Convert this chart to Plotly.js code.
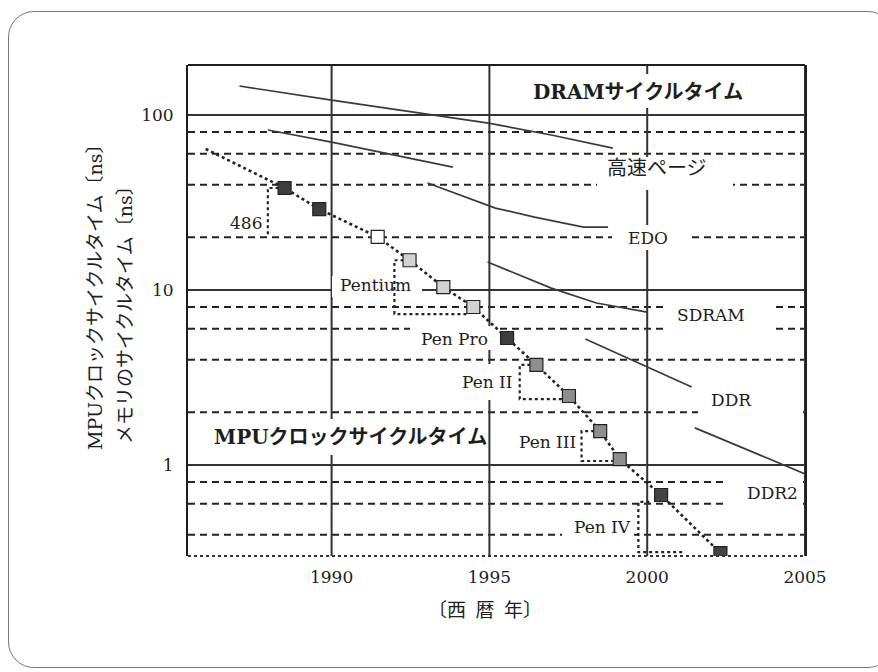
<!DOCTYPE html>
<html><head><meta charset="utf-8">
<script src="https://cdn.plot.ly/plotly-3.0.1.min.js"></script>
<style>
html,body{margin:0;padding:0;background:#fff;overflow:hidden;width:878px;height:672px;}
#frame{position:absolute;left:8px;top:11px;width:886px;height:657px;border:1.6px solid #777;border-radius:26px;box-sizing:border-box;}
#chart{position:absolute;left:0;top:0;width:878px;height:672px;}
</style></head><body>
<div id="frame"></div>
<div id="chart"></div>
<script>
// ---------- data ----------
const yearTicks = [1990, 1995, 2000, 2005];
const nsMajorTicks = [1, 10, 100];
const nsMinorTicks = [0.4, 0.6, 0.8, 2, 4, 6, 8, 20, 40, 60, 80];

// MPU clock cycle time (ns)
const mpuYear = [1988.51, 1989.61, 1991.46, 1992.47, 1993.54, 1994.49, 1995.56, 1996.49, 1997.52, 1998.51, 1999.13, 2000.44, 2002.32];
const mpuNs   = [38.3, 29.0, 20.1, 14.8, 10.4, 8.0, 5.32, 3.73, 2.48, 1.56, 1.08, 0.674, 0.314];
const trendLeadYear = [1986.01];
const trendLeadNs = [64];

// processor group brackets
const bracket486Year = [1988.51, 1987.98, 1987.98];
const bracket486Ns   = [38.3, 38.3, 20.6];
const bracketPentiumYear = [1992.47, 1991.99, 1991.99, 1994.29];
const bracketPentiumNs   = [14.8, 14.8, 7.29, 7.29];
const bracketPen2Year = [1996.49, 1995.96, 1995.96, 1997.36];
const bracketPen2Ns   = [3.73, 3.73, 2.38, 2.38];
const bracketPen3Year = [1998.51, 1997.92, 1997.92, 1998.91];
const bracketPen3Ns   = [1.56, 1.56, 1.054, 1.054];
const bracketPen4Year = [2000.07, 1999.72, 1999.72, 2001.17];
const bracketPen4Ns   = [0.615, 0.615, 0.318, 0.318];

// DRAM cycle time curves (ns)
const dramYear = [1987.08, 1990.0, 1994.97, 1996.96, 1998.91];
const dramNs   = [146.5, 121.8, 90.0, 76.9, 64.7];
const fpmYear = [1987.98, 1990.0, 1993.84];
const fpmNs   = [82.1, 70.1, 50.4];
const edoYear = [1993.04, 1995.19, 1996.43, 1997.98, 1998.76];
const edoNs   = [40.9, 29.4, 26.1, 22.9, 22.9];
const sdramYear = [1994.94, 1996.96, 1998.39, 2000.0];
const sdramNs   = [14.45, 10.26, 8.43, 7.48];
const ddrYear = [1998.04, 2001.41];
const ddrNs   = [5.25, 2.79];
const ddr2Year = [2001.51, 2005.0];
const ddr2Ns   = [1.63, 0.89];

// text
const processorLabels = ['486', 'Pentium', 'Pen Pro', 'Pen II', 'Pen III', 'Pen IV'];
const memoryLabels = ['高速ページ', 'EDO', 'SDRAM', 'DDR', 'DDR2'];
const panelTitles = ['DRAMサイクルタイム', 'MPUクロックサイクルタイム'];
const yTitleLines = ['MPUクロックサイクルタイム〔ns〕', 'メモリのサイクルタイム〔ns〕'];
const xTitle = '〔西\u2002暦\u2002年〕';

// ---------- style ----------
const INK = '#1e1e1e';
const FONT = 'DejaVu Serif, Noto Sans CJK JP, serif';
const squareFill = ['#3d3d3d', '#3d3d3d', '#ffffff', '#d2d2d2', '#d2d2d2', '#d2d2d2', '#3d3d3d',
                    '#8e8e8e', '#8e8e8e', '#8e8e8e', '#8e8e8e', '#444444', '#444444'];

// plot area in pixels: x 188..805, y 65..556
const PL = 188, PR = 805, PT = 65, PB = 556;
const X_RANGE = [1985.45, 2005];
const Y_RANGE = [Math.log10(0.302), 2.286];
const px = x => (x - PL) / (PR - PL);
const py = y => (PB - y) / (PB - PT);
const yPaper = v => (Math.log10(v) - Y_RANGE[0]) / (Y_RANGE[1] - Y_RANGE[0]);

function curve(x, y) {
  return {x, y, type: 'scatter', mode: 'lines', hoverinfo: 'skip',
          line: {color: '#3a3a3a', width: 1.7}};
}
function bracket(x, y) {
  return {x, y, type: 'scatter', mode: 'lines', hoverinfo: 'skip',
          line: {color: '#222', width: 2.2, dash: 'dot'}};
}

const traces = [
  curve(dramYear, dramNs), curve(fpmYear, fpmNs), curve(edoYear, edoNs),
  curve(sdramYear, sdramNs), curve(ddrYear, ddrNs), curve(ddr2Year, ddr2Ns),
  bracket(bracket486Year, bracket486Ns), bracket(bracketPentiumYear, bracketPentiumNs),
  bracket(bracketPen2Year, bracketPen2Ns), bracket(bracketPen3Year, bracketPen3Ns),
  bracket(bracketPen4Year, bracketPen4Ns),
  {x: trendLeadYear.concat(mpuYear), y: trendLeadNs.concat(mpuNs), type: 'scatter', mode: 'lines',
   hoverinfo: 'skip', line: {color: '#222', width: 2.6, dash: 'dot'}},
  {x: mpuYear, y: mpuNs, type: 'scatter', mode: 'markers', hoverinfo: 'skip',
   marker: {symbol: 'square', size: 13, color: squareFill, line: {color: '#222', width: 1.2}}}
];

// grid drawn as shapes in the 'below' layer, then white masks behind labels
const shapes = [];
nsMajorTicks.forEach(v => shapes.push({type: 'line', layer: 'below', xref: 'paper', yref: 'paper',
  x0: 0, x1: 1, y0: yPaper(v), y1: yPaper(v), line: {color: '#333', width: 2}}));
nsMinorTicks.forEach(v => shapes.push({type: 'line', layer: 'below', xref: 'paper', yref: 'paper',
  x0: 0, x1: 1, y0: yPaper(v), y1: yPaper(v), line: {color: '#222', width: 2, dash: '7px,5px'}}));
yearTicks.forEach(v => shapes.push({type: 'line', layer: 'below', xref: 'x', yref: 'paper',
  x0: v, x1: v, y0: 0, y1: 1, line: {color: '#333', width: 2}}));

const maskBoxes = [
  [520, 755, 74, 108], [597, 733, 157, 190], [612, 688, 225, 250], [332, 422, 276, 297],
  [410, 495, 326, 350], [665, 773, 296, 338], [458, 516, 364, 400], [698, 803, 390, 420],
  [206, 486, 419, 455], [728, 803, 474, 512], [562, 634, 516, 540]
];
maskBoxes.forEach(b => shapes.push({
  type: 'rect', xref: 'paper', yref: 'paper', layer: 'below',
  x0: px(b[0]), x1: px(b[1]), y0: py(b[3]), y1: py(b[2]),
  fillcolor: '#ffffff', line: {width: 0}
}));
shapes.push({type: 'line', xref: 'paper', yref: 'paper', x0: 0, x1: 1, y0: 1, y1: 1,
             line: {color: INK, width: 2}});
shapes.push({type: 'line', xref: 'paper', yref: 'paper', x0: 0, x1: 1, y0: 0, y1: 0,
             line: {color: '#333', width: 2, dash: 'dot'}});

function label(text, x, y, size, extra) {
  return Object.assign({text, xref: 'paper', yref: 'paper', x: px(x), y: py(y),
    xanchor: 'center', yanchor: 'middle', showarrow: false,
    font: {family: FONT, size, color: INK}}, extra || {});
}

const annotations = [
  label(processorLabels[0], 246, 223, 17),
  label(processorLabels[1], 375, 285, 17),
  label(processorLabels[2], 454, 339, 17),
  label(processorLabels[3], 487, 382, 17),
  label(processorLabels[4], 547, 442, 17),
  label(processorLabels[5], 602, 527, 17),
  label(memoryLabels[0], 657, 168, 20),
  label(memoryLabels[1], 648, 238, 17),
  label(memoryLabels[2], 711, 315, 17),
  label(memoryLabels[3], 731, 400, 17),
  label(memoryLabels[4], 772, 493, 17),
  label('<b>' + panelTitles[0] + '</b>', 638, 92, 20),
  label('<b>' + panelTitles[1] + '</b>', 350, 437, 20),
  label(yTitleLines[0], 95, 292, 19, {textangle: -90}),
  label(yTitleLines[1], 125, 310, 19, {textangle: -90}),
  label(xTitle, 485, 610, 19)
];

const layout = {
  width: 878, height: 672,
  margin: {l: PL, r: 878 - PR, t: PT, b: 672 - PB, pad: 0},
  paper_bgcolor: 'rgba(0,0,0,0)', plot_bgcolor: 'rgba(0,0,0,0)',
  showlegend: false, hovermode: false,
  font: {family: FONT, size: 17, color: INK},
  xaxis: {
    range: X_RANGE, tickmode: 'array', tickvals: yearTicks, ticktext: yearTicks.map(String),
    showgrid: false, zeroline: false, showline: false,
    ticks: '', ticklabelstandoff: 9, tickfont: {family: FONT, size: 17, color: INK}
  },
  yaxis: {
    type: 'log', range: Y_RANGE, tickmode: 'array',
    tickvals: nsMajorTicks, ticktext: nsMajorTicks.map(String),
    showgrid: false, zeroline: false,
    showline: true, mirror: true, linecolor: INK, linewidth: 2,
    ticks: '', ticklabelstandoff: 9, tickfont: {family: FONT, size: 17, color: INK}
  },
  shapes, annotations
};

Plotly.newPlot('chart', traces, layout, {displayModeBar: false});
</script>
</body></html>
